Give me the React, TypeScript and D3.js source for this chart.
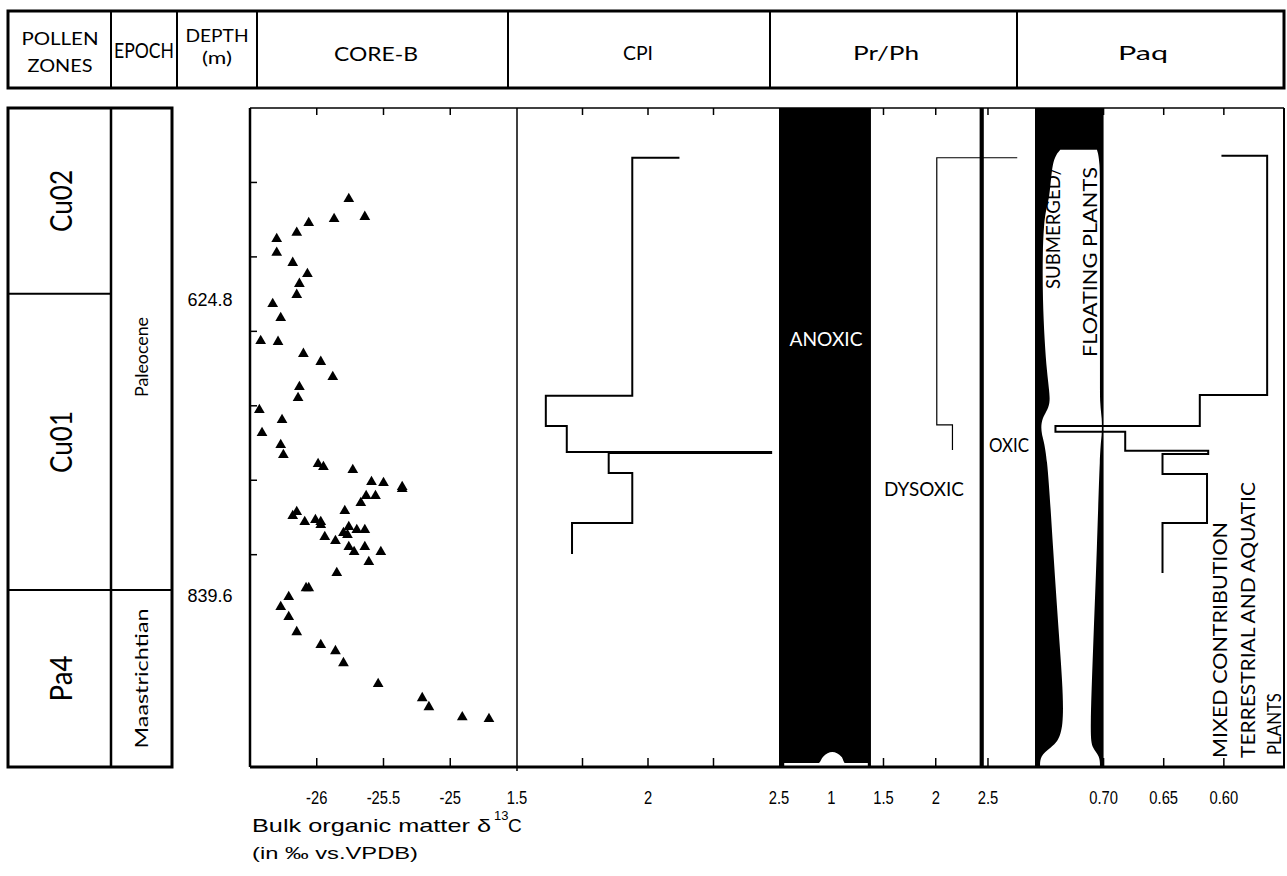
import React from "react";
import * as d3 from "d3";

// bulk organic matter d13C samples (depth m, permil vs VPDB)
const d13cDepth = [555.9, 568.9, 570.4, 573.3, 580.5, 584.9, 595.0, 602.3, 610.3, 617.5, 625.5, 632.1, 642.2, 658.9, 659.6, 668.3, 674.1, 685.0, 692.3, 700.3, 709.0, 716.2, 725.7, 734.4, 741.6, 748.2, 750.3, 752.5, 761.2, 762.0, 764.9, 766.3, 771.4, 771.4, 776.5, 782.3, 783.0, 785.9, 790.3, 788.8, 790.3, 792.4, 793.9, 798.2, 796.1, 796.1, 799.7, 801.1, 804.0, 808.4, 808.4, 812.0, 812.0, 819.3, 827.3, 838.2, 838.2, 844.7, 851.9, 859.2, 870.1, 879.5, 883.9, 892.6, 907.8, 918.0, 924.5, 931.8, 933.2];
const d13cValue = [-25.76, -25.64, -25.87, -26.06, -26.15, -26.3, -26.3, -26.18, -26.07, -26.13, -26.15, -26.33, -26.27, -26.42, -26.29, -26.1, -25.97, -25.88, -26.13, -26.14, -26.43, -26.26, -26.41, -26.27, -26.25, -25.99, -25.95, -25.73, -25.59, -25.5, -25.36, -25.36, -25.63, -25.56, -25.67, -25.79, -26.15, -26.18, -26.09, -26.01, -25.97, -25.97, -25.76, -25.8, -25.7, -25.64, -25.77, -25.94, -25.86, -25.64, -25.76, -25.72, -25.52, -25.61, -25.85, -26.08, -26.06, -26.21, -26.27, -26.21, -26.15, -25.97, -25.86, -25.8, -25.54, -25.21, -25.16, -24.91, -24.71];

// step profiles (vertices as depth / value)
const cpiDepth = [526.1, 526.1, 698.8, 698.8, 720.6, 720.6, 739.5, 739.5, 740.2, 740.2, 754.7, 754.7, 791.0, 791.0, 813.5];
const cpiValue = [2.12, 1.94, 1.94, 1.61, 1.61, 1.69, 1.69, 2.47, 2.47, 1.85, 1.85, 1.94, 1.94, 1.71, 1.71];

const prphDepth = [526.1, 526.1, 719.9, 719.9, 738.0];
const prphValue = [2.78, 2.01, 2.01, 2.16, 2.16];

const paqDepth = [524.7, 524.7, 698.1, 698.1, 720.6, 720.6, 724.9, 724.9, 738.7, 738.7, 740.9, 740.9, 755.4, 755.4, 791.0, 791.0, 827.3];
const paqValue = [0.602, 0.564, 0.564, 0.62, 0.62, 0.74, 0.74, 0.682, 0.682, 0.613, 0.613, 0.651, 0.651, 0.614, 0.614, 0.651, 0.651];

// white submerged/floating plants envelope inside the Paq band
const envDepth = [520.3, 527.6, 556.6, 567.5, 629.2, 687.2, 705.4, 714.8, 727.1, 736.6, 810.6, 883.1, 944.8, 954.3, 960.1, 968.0];
const envLeft = [0.736, 0.743, 0.7445, 0.7503, 0.7512, 0.747, 0.7429, 0.752, 0.752, 0.747, 0.742, 0.7362, 0.7312, 0.7445, 0.7528, 0.7528];
const envRight = [0.7055, 0.703, 0.703, 0.703, 0.703, 0.703, 0.703, 0.7013, 0.7013, 0.703, 0.7055, 0.7088, 0.7113, 0.7096, 0.703, 0.703];

// white notch at the foot of the anoxic band
const notchValue = [0.55, 0.88, 0.92, 1.01, 1.1, 1.13, 1.35];
const notchDepth = [965.1, 965.1, 960.8, 957.2, 960.8, 965.1, 965.1];

const zoneNames = ["Cu02", "Cu01", "Pa4"];
const zoneBreaks = [490, 624.8, 839.6, 968];
const epochNames = ["Paleocene", "Maastrichtian"];
const epochBreaks = [490, 839.6, 968];
const depthLabels = [624.8, 839.6];
const depthTicks = [544, 598, 652, 706, 760, 814];

const d13cTicks = [-26, -25.5, -25];
const cpiTicks = [1.75, 2, 2.25];
const cpiLabels = [1.5, 2, 2.5];
const prphTicks = [1.5, 2, 2.5];
const prphLabels = [1, 1.5, 2, 2.5];
const paqTicks = [0.7, 0.65, 0.6];

const TOP = 108;
const BOTTOM = 767;
const HEAD_TOP = 11;
const HEAD_BOTTOM = 88;

const y = d3.scaleLinear().domain([490, 968]).range([TOP, BOTTOM]);
const xC = d3.scaleLinear().domain([-26.5, -24.5]).range([250, 517]);
const xCpi = d3.scaleLinear().domain([1.5, 2.5]).range([517, 779]);
const xPr = d3.scaleLinear().domain([0.5, 2.95]).range([779, 1035]);
const xPaq = d3.scaleLinear().domain([0.757, 0.55]).range([1035, 1284]);

const SANS = "Lato, 'Open Sans', 'DejaVu Sans', sans-serif";
const ARIAL = "'Liberation Sans', Arial, sans-serif";

const headers = [
  { lines: ["POLLEN", "ZONES"], x: 60, ys: [45, 72], size: 18, lens: [77, 65] },
  { lines: ["EPOCH"], x: 144, ys: [58], size: 21, lens: [60] },
  { lines: ["DEPTH", "(m)"], x: 217, ys: [42, 64], size: 18, lens: [63, 30] },
  { lines: ["CORE-B"], x: 376, ys: [61], size: 19, lens: [84] },
  { lines: ["CPI"], x: 638, ys: [60], size: 19, lens: [30] },
  { lines: ["Pr/Ph"], x: 886, ys: [60], size: 19, lens: [66] },
  { lines: ["Paq"], x: 1143, ys: [60], size: 19, lens: [50] },
];
const headerDividers = [111, 177, 257, 508, 770, 1017];

const Rot = (p: { x: number; y: number; len: number; size: number; fill?: string; children: string }) => (
  <text
    transform={`translate(${p.x},${p.y}) rotate(-90)`}
    textAnchor="middle"
    fontFamily={SANS}
    fontSize={p.size}
    fill={p.fill || "#000"}
    textLength={p.len}
    lengthAdjust="spacingAndGlyphs"
  >
    {p.children}
  </text>
);

const AxisLabel = (p: { x: number; label: string }) => (
  <g transform={`translate(${p.x},804) scale(0.82,1)`}>
    <text textAnchor="middle" fontFamily={ARIAL} fontSize={18}>
      {p.label}
    </text>
  </g>
);

const Chart = () => {
  const tri = d3.symbol().type(d3.symbolTriangle).size(50)() as string;
  const line = d3.line<[number, number]>().x((d) => d[0]).y((d) => d[1]);

  const cpiPath = line(cpiDepth.map((d, i) => [xCpi(cpiValue[i]), y(d)]));
  const prPath = line(prphDepth.map((d, i) => [xPr(prphValue[i]), y(d)]));
  const paqPath = line(paqDepth.map((d, i) => [xPaq(paqValue[i]), y(d)]));

  const envPath = d3
    .area<number>()
    .y((d) => y(d))
    .x0((_, i) => xPaq(envLeft[i]))
    .x1((_, i) => xPaq(envRight[i]))
    .curve(d3.curveBasis)(envDepth);

  const notchPath = d3
    .area<number>()
    .x((d) => xPr(d))
    .y0(y(968))
    .y1((_, i) => y(notchDepth[i]))
    .curve(d3.curveMonotoneX)(notchValue);

  const tickXs = [
    ...d13cTicks.map((v) => xC(v)),
    ...cpiTicks.map((v) => xCpi(v)),
    ...prphTicks.map((v) => xPr(v)),
    ...paqTicks.map((v) => xPaq(v)),
  ];

  return (
    <svg
      width={1287}
      height={876}
      style={{ position: "absolute", left: 0, top: 0, display: "block" }}
    >
      <rect width={1287} height={876} fill="#fff" />

      {/* header row */}
      <rect x={8} y={HEAD_TOP} width={1276} height={HEAD_BOTTOM - HEAD_TOP} fill="none" stroke="#000" strokeWidth={3} />
      {headerDividers.map((x) => (
        <line key={x} x1={x} x2={x} y1={HEAD_TOP} y2={HEAD_BOTTOM} stroke="#000" strokeWidth={2} />
      ))}
      {headers.map((h) =>
        h.lines.map((t, i) => (
          <text
            key={t}
            x={h.x}
            y={h.ys[i]}
            textAnchor="middle"
            fontFamily={SANS}
            fontSize={h.size}
            textLength={h.lens[i]}
            lengthAdjust="spacingAndGlyphs"
          >
            {t}
          </text>
        ))
      )}

      {/* pollen zones and epochs */}
      <rect x={8} y={TOP} width={164} height={BOTTOM - TOP} fill="none" stroke="#000" strokeWidth={3} />
      <line x1={111} x2={111} y1={TOP} y2={BOTTOM} stroke="#000" strokeWidth={2.5} />
      {zoneBreaks.slice(1, -1).map((d) => (
        <line key={d} x1={8} x2={d === 839.6 ? 172 : 111} y1={y(d)} y2={y(d)} stroke="#000" strokeWidth={2} />
      ))}
      {zoneNames.map((z, i) => (
        <Rot key={z} x={72} y={(y(zoneBreaks[i]) + y(zoneBreaks[i + 1])) / 2} len={z === "Pa4" ? 46 : 62} size={30}>
          {z}
        </Rot>
      ))}
      {epochNames.map((e, i) => (
        <Rot
          key={e}
          x={148}
          y={(y(epochBreaks[i]) + y(epochBreaks[i + 1])) / 2 + (i === 0 ? 8 : 0)}
          len={e === "Paleocene" ? 80 : 140}
          size={17}
        >
          {e}
        </Rot>
      ))}
      {depthLabels.map((d) => (
        <text key={d} x={210} y={y(d) + 12} textAnchor="middle" fontFamily={ARIAL} fontSize={18}>
          {d.toFixed(1)}
        </text>
      ))}

      {/* Pr/Ph anoxic band */}
      <rect x={xPr(0.5)} y={TOP} width={xPr(1.38) - xPr(0.5)} height={BOTTOM - TOP} fill="#000" />
      <path d={notchPath || ""} fill="#fff" />
      <rect x={xPr(2.42)} y={TOP} width={xPr(2.46) - xPr(2.42)} height={BOTTOM - TOP} fill="#000" />

      {/* Paq band */}
      <rect x={xPaq(0.757)} y={TOP} width={xPaq(0.7) - xPaq(0.757)} height={BOTTOM - TOP} fill="#000" />
      <path d={envPath || ""} fill="#fff" />

      {/* profiles */}
      <path d={cpiPath || ""} fill="none" stroke="#000" strokeWidth={2} />
      <path d={prPath || ""} fill="none" stroke="#000" strokeWidth={1.2} />
      <path d={paqPath || ""} fill="none" stroke="#000" strokeWidth={2} />

      {/* d13C triangles */}
      {d13cDepth.map((d, i) => (
        <path key={i} d={tri} transform={`translate(${xC(d13cValue[i])},${y(d)})`} fill="#000" />
      ))}

      {/* region labels */}
      <text x={826} y={346} textAnchor="middle" fontFamily={SANS} fontSize={20} fill="#fff" textLength={73} lengthAdjust="spacingAndGlyphs">
        ANOXIC
      </text>
      <text x={924} y={496} textAnchor="middle" fontFamily={SANS} fontSize={20} textLength={80} lengthAdjust="spacingAndGlyphs">
        DYSOXIC
      </text>
      <text x={989} y={452} fontFamily={SANS} fontSize={20} textLength={40} lengthAdjust="spacingAndGlyphs">
        OXIC
      </text>
      <Rot x={1060} y={228} len={122} size={19}>SUBMERGED/</Rot>
      <Rot x={1097} y={262} len={190} size={19}>FLOATING PLANTS</Rot>
      <Rot x={1227} y={640} len={236} size={19}>MIXED CONTRIBUTION</Rot>
      <Rot x={1255} y={620} len={276} size={19}>TERRESTRIAL AND AQUATIC</Rot>
      <Rot x={1281} y={724} len={62} size={19}>PLANTS</Rot>

      {/* frame */}
      <line x1={250} x2={1284} y1={TOP} y2={TOP} stroke="#000" strokeWidth={1.5} />
      <line x1={250} x2={1285} y1={BOTTOM} y2={BOTTOM} stroke="#000" strokeWidth={3} />
      <line x1={250} x2={250} y1={TOP} y2={BOTTOM} stroke="#000" strokeWidth={2.5} />
      <line x1={1284} x2={1284} y1={TOP} y2={BOTTOM} stroke="#000" strokeWidth={2} />
      <line x1={517} x2={517} y1={TOP} y2={BOTTOM + 4} stroke="#000" strokeWidth={1.5} />
      {depthTicks.map((d) => (
        <line key={d} x1={250} x2={257} y1={y(d)} y2={y(d)} stroke="#000" strokeWidth={1.5} />
      ))}
      {tickXs.map((x, i) => (
        <g key={i}>
          <line x1={x} x2={x} y1={BOTTOM} y2={BOTTOM - 9} stroke="#000" strokeWidth={1.5} />
          <line x1={x} x2={x} y1={TOP} y2={TOP + 7} stroke="#000" strokeWidth={1.5} />
        </g>
      ))}

      {/* axis labels */}
      {d13cTicks.map((v) => (
        <AxisLabel key={"c" + v} x={xC(v)} label={String(v)} />
      ))}
      {cpiLabels.map((v) => (
        <AxisLabel key={"p" + v} x={xCpi(v)} label={String(v)} />
      ))}
      {prphLabels.map((v) => (
        <AxisLabel key={"r" + v} x={xPr(v)} label={String(v)} />
      ))}
      {paqTicks.map((v) => (
        <AxisLabel key={"q" + v} x={xPaq(v)} label={v.toFixed(2)} />
      ))}

      <text x={252} y={832} fontFamily={ARIAL} fontSize={19} textLength={239} lengthAdjust="spacingAndGlyphs">
        Bulk organic matter δ
      </text>
      <text x={494} y={820} fontFamily={ARIAL} fontSize={13}>
        13
      </text>
      <text x={508} y={832} fontFamily={ARIAL} fontSize={19}>
        C
      </text>
      <text x={252} y={859} fontFamily={ARIAL} fontSize={17} textLength={166} lengthAdjust="spacingAndGlyphs">
        (in ‰ vs.VPDB)
      </text>
    </svg>
  );
};

export default function App() {
  return <Chart />;
}
